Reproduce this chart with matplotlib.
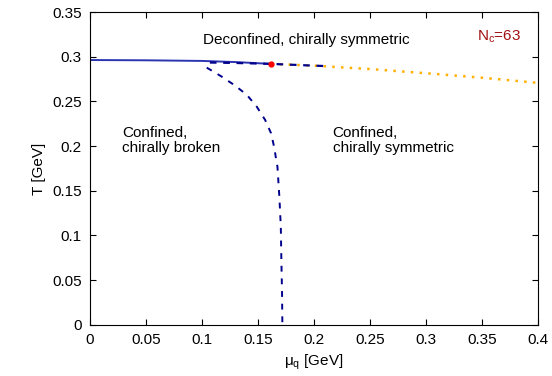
import matplotlib
matplotlib.use("Agg")
import matplotlib.pyplot as plt
from matplotlib.ticker import MultipleLocator

plt.rcParams['font.family'] = ['Liberation Sans', 'DejaVu Sans']

# Deconfinement line (solid)
mu_deconf = [0.0, 0.05, 0.10, 0.13, 0.1616]
T_deconf = [0.2963, 0.2960, 0.2953, 0.2940, 0.2920]

# Chiral transition (dashed), lower branch
mu_chiral = [0.1042, 0.1176, 0.1295, 0.1400, 0.1488, 0.1563, 0.1616, 0.1646,
             0.1664, 0.1673, 0.1690, 0.1703, 0.1708, 0.1714, 0.1717]
T_chiral = [0.2878, 0.2777, 0.2677, 0.2573, 0.2442, 0.2293, 0.2144, 0.1976,
            0.1827, 0.1770, 0.1435, 0.1100, 0.0727, 0.0358, 0.0]

# Chiral transition (dashed), upper branch along deconfinement line
mu_chiral_top = [0.107, 0.13, 0.1616, 0.19, 0.211]
T_chiral_top = [0.2935, 0.293, 0.2920, 0.2905, 0.2895]

# Dotted continuation
mu_dot = [0.1616, 0.20, 0.25, 0.30, 0.35, 0.40]
T_dot = [0.2920, 0.2900, 0.2862, 0.2815, 0.2765, 0.2707]

# Critical point
mu_cp = [0.1616]
T_cp = [0.2920]

FS = 11

fig = plt.figure(figsize=(5.52, 3.76), dpi=100)
ax = fig.add_axes([0.163, 0.136, 0.812, 0.832])

ax.plot(mu_dot, T_dot, linestyle=(0, (1, 2.5)), color='#ffb000', lw=1.8)
ax.plot(mu_deconf, T_deconf, '-', color='#2b35b0', lw=1.4)
ax.plot(mu_chiral_top, T_chiral_top, linestyle=(0, (3, 3)), color='#00008b', lw=1.6)
ax.plot(mu_chiral, T_chiral, linestyle=(0, (3, 3.5)), color='#00008b', lw=1.4)
ax.plot(mu_cp, T_cp, 'o', color='red', ms=3.5, zorder=5)

ax.set_xlim(0, 0.4)
ax.set_ylim(0, 0.35)
ax.xaxis.set_major_locator(MultipleLocator(0.05))
ax.yaxis.set_major_locator(MultipleLocator(0.05))
ax.set_xticklabels([f"{v:g}" for v in ax.get_xticks()])
ax.set_yticklabels([f"{v:g}" for v in ax.get_yticks()])
ax.tick_params(direction='in', top=True, right=True, length=4, labelsize=FS, pad=6)

ax.set_xlabel(r'$\mathregular{\mu_q}$ [GeV]', fontsize=FS)
ax.set_ylabel('T [GeV]', fontsize=FS)

ax.text(0.1935, 0.3143, 'Deconfined, chirally symmetric', ha='center', va='baseline', fontsize=FS)
ax.text(0.3646, 0.3177, r'N$\mathregular{_c}$=63', ha='center', va='baseline', fontsize=FS, color='#a01010')
ax.text(0.0285, 0.1938, 'Confined,\nchirally broken', ha='left', va='baseline', fontsize=FS, linespacing=1.05)
ax.text(0.2165, 0.1938, 'Confined,\nchirally symmetric', ha='left', va='baseline', fontsize=FS, linespacing=1.05)

fig.savefig('out.png', dpi=100)
